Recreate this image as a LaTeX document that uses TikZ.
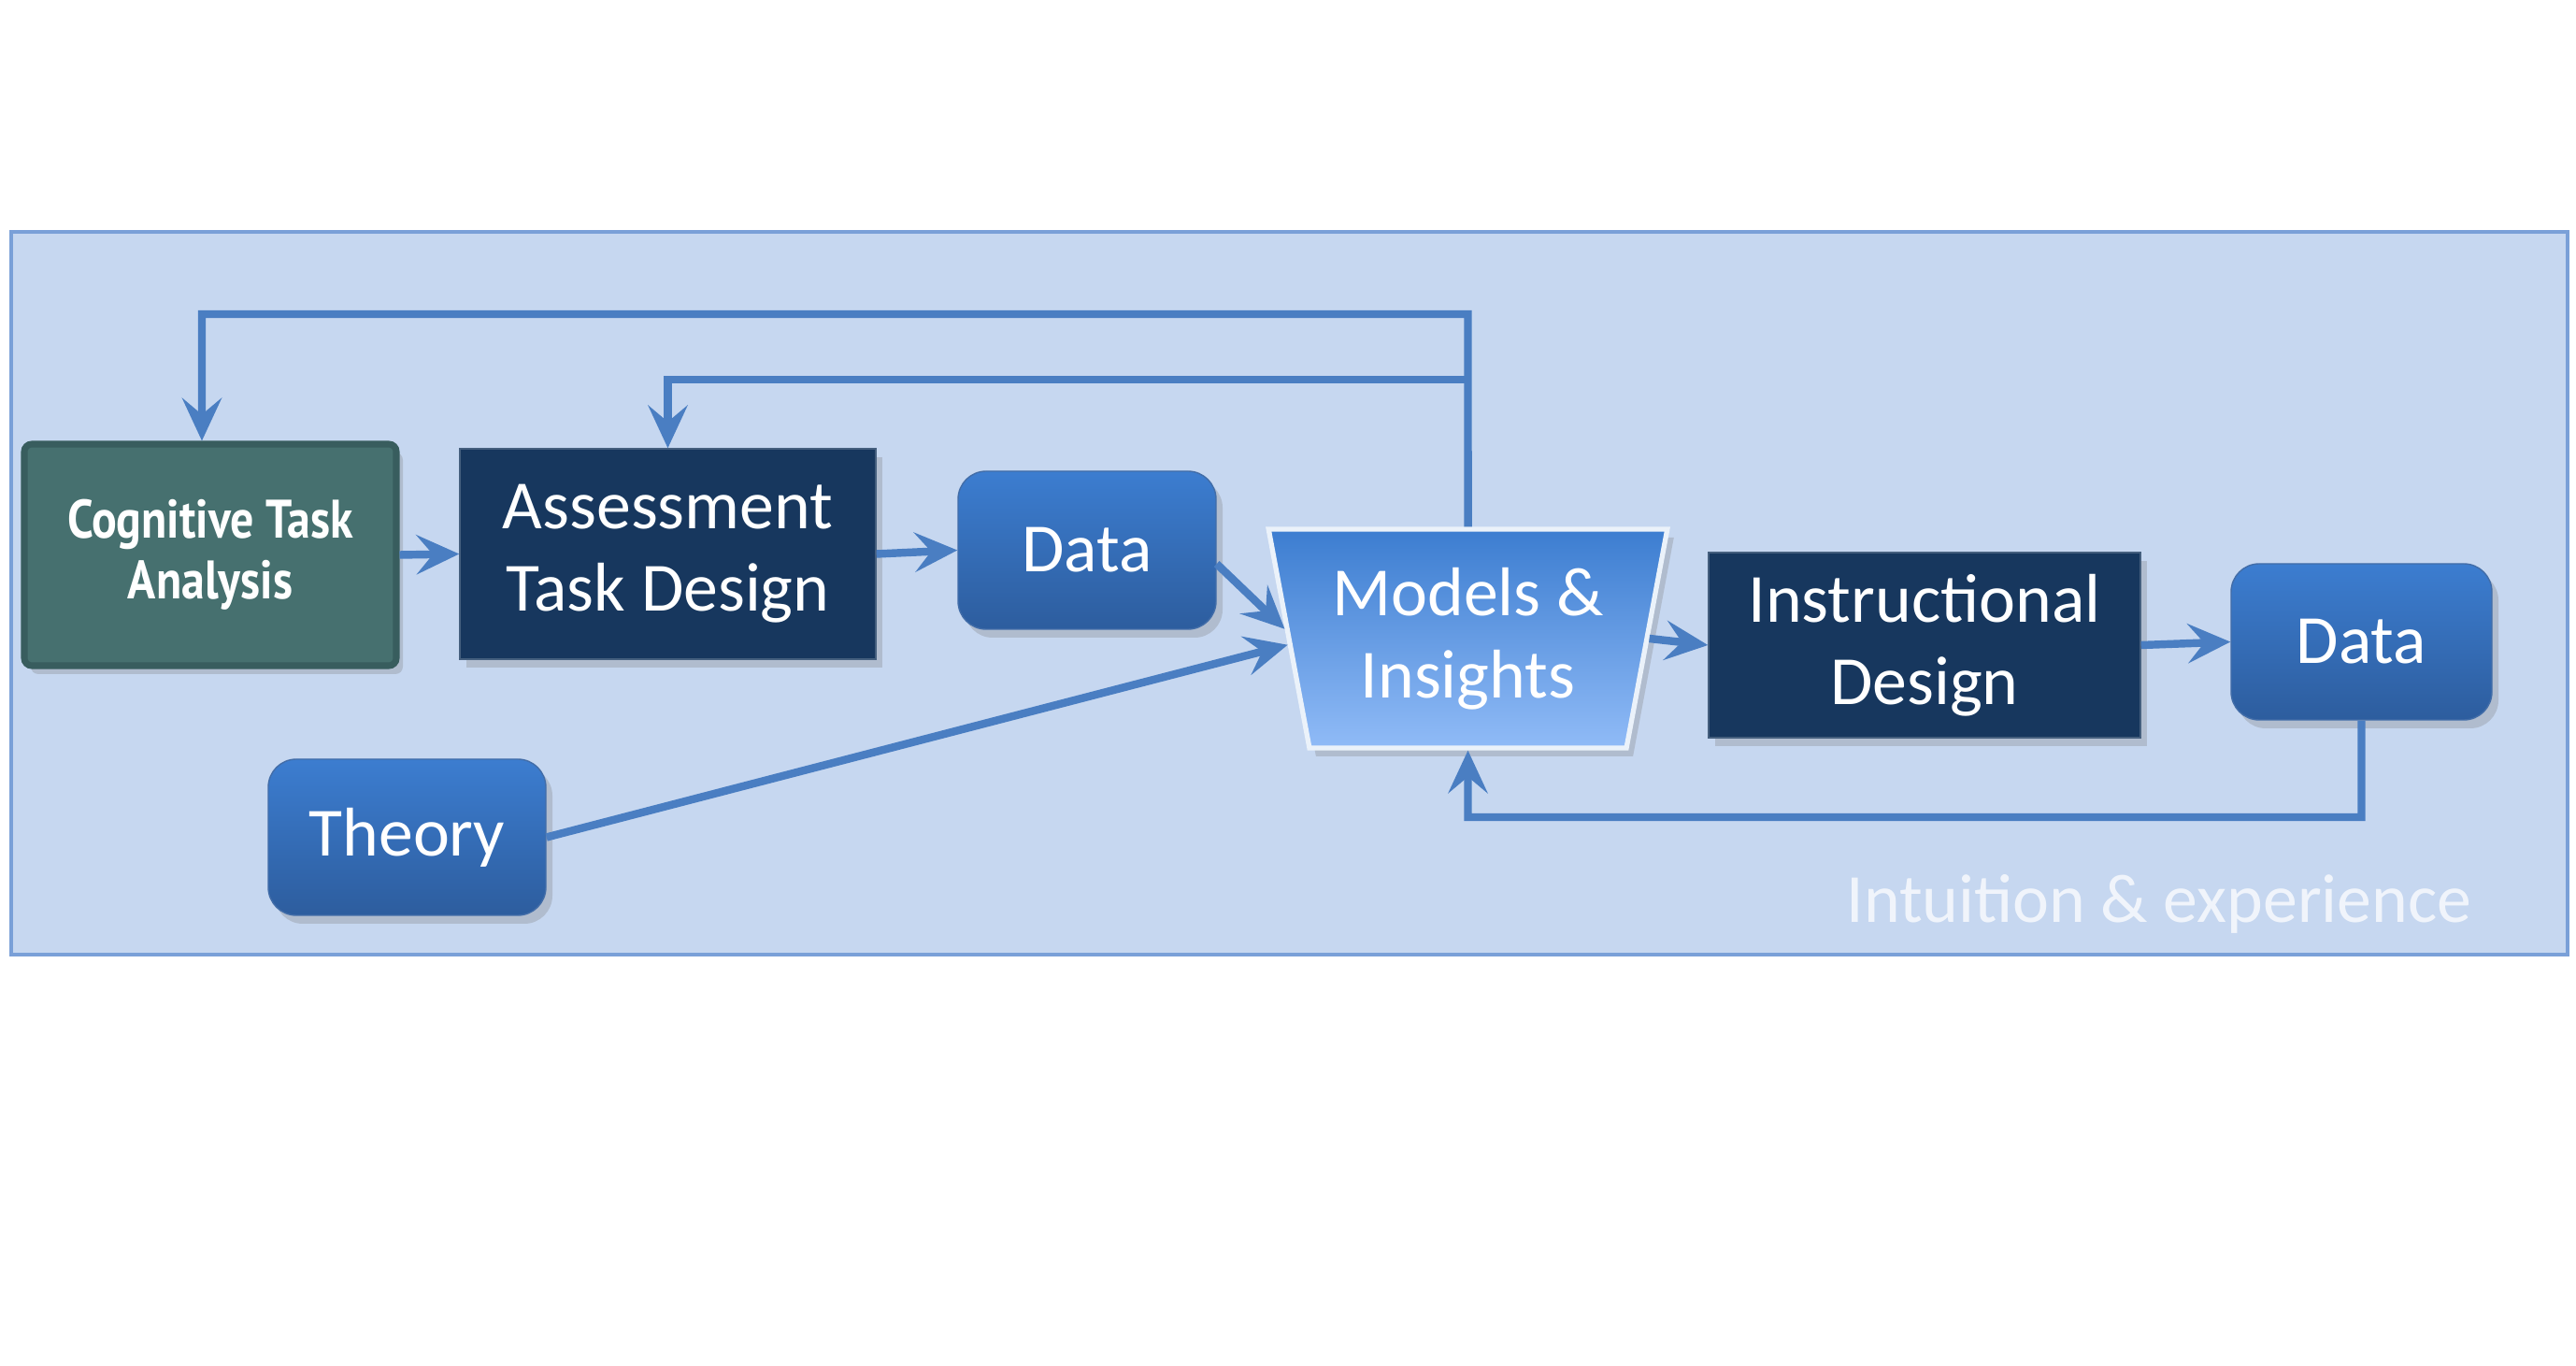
\documentclass[tikz,border=0pt]{standalone}
\usepackage{fontspec}
\setmainfont{Carlito}
\newfontfamily\ctafont[FakeStretch=0.86]{PT Sans}
\usetikzlibrary{arrows.meta, shapes.geometric, shadows}

\definecolor{panel}{HTML}{C6D7F0}
\definecolor{panelline}{HTML}{7AA0D8}
\definecolor{flowblue}{HTML}{4A7EC2}
\definecolor{navy}{HTML}{17375E}
\definecolor{teal}{HTML}{46706F}
\definecolor{tealline}{HTML}{385D5E}
\definecolor{datatop}{HTML}{3C7DD0}
\definecolor{databot}{HTML}{2D5D9E}
\definecolor{modbot}{HTML}{90BBF7}

\begin{document}
\begin{tikzpicture}[
		big/.style={font=\fontsize{21}{25}\selectfont, text=white, align=center},
		soft/.style={drop shadow={shadow xshift=0.07cm, shadow yshift=-0.09cm, opacity=0.3}},
		navybox/.style={big, soft, rectangle, fill=navy, draw=navy!80!white, minimum width=#1},
		databox/.style={big, soft, rectangle, rounded corners=0.3cm, top color=datatop, bottom color=databot, draw=databot!90!white, minimum width=#1},
		flow/.style={draw=flowblue, line width=2.4pt, -{Stealth[length=13pt, width=12pt, inset=5pt]}}
	]
	
		\useasboundingbox (0,0) rectangle (27.56,14.60);
		
		% panel
		\fill[panel] (0.12,4.39) rectangle (27.47,12.12);
		\draw[panelline, line width=1.2pt] (0.12,4.39) rectangle (27.47,12.12);
		\node[anchor=east, inner sep=0pt, font=\fontsize{21}{25}\selectfont, text=white, text opacity=0.75] (intuition) at (26.45,4.93) {Intuition \& experience};
		
		% boxes
		\node[soft, rectangle, rounded corners=0.08cm, fill=teal, draw=tealline, line width=2pt, minimum width=3.98cm, minimum height=2.37cm, text=white, align=center, font=\ctafont\bfseries\fontsize{16.5}{18.5}\selectfont] (cta) at (2.25,8.665) {Cognitive Task\\Analysis};
		\node[navybox=4.45cm, minimum height=2.25cm] (atd) at (7.145,8.675) {Assessment\\Task Design};
		\node[databox=2.76cm, minimum height=1.69cm] (data1) at (11.63,8.715) {Data};
		\node[databox=2.97cm, minimum height=1.67cm] (theory) at (4.355,5.645) {Theory};
		\node[big, soft, trapezium, shape border rotate=180, trapezium angle=77, trapezium stretches=true, minimum width=4.27cm, minimum height=2.34cm, top color=datatop, bottom color=modbot, draw=white!90!datatop, line width=1.5pt] (models) at (15.705,7.77) {Models \&\\Insights};
		\node[navybox=4.62cm, minimum height=1.98cm] (id) at (20.59,7.70) {Instructional\\Design};
		\node[databox=2.79cm, minimum height=1.67cm] (data2) at (25.265,7.735) {Data};
		
		% forward flow
		\draw[flow] (cta.east) -- (atd.west);
		\draw[flow] (atd.east) -- (data1.west);
		\draw[flow] (data1.-6) -- (models.177);
		\draw[flow] (theory.east) -- (models.182);
		\draw[flow] (models.east) -- (id.west);
		\draw[flow] (id.east) -- (data2.west);
		
		% feedback loops
		\coordinate (upper) at (15.705,11.24);
		\coordinate (lower) at (15.705,10.54);
		\coordinate (back) at (15.705,5.86);
		\draw[flow] (models.north) -- (upper) -| ([xshift=-0.09cm]cta.north);
		\draw[flow] (lower) -| (atd.north);
		\draw[flow] (data2.south) |- (back) -- (models.south);
		
\end{tikzpicture}
\end{document}
